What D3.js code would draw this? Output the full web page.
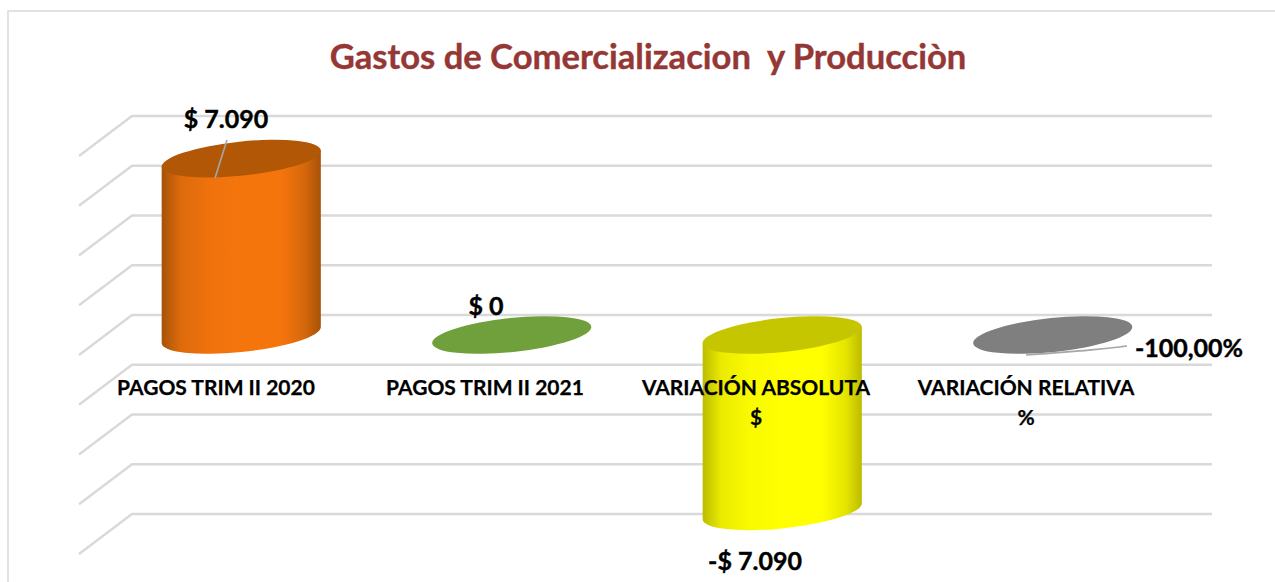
<!DOCTYPE html>
<html><head><meta charset="utf-8">
<style>html,body{margin:0;padding:0;background:#fff;overflow:hidden}svg{display:block}text{font-family:Lato,"Open Sans",sans-serif;font-weight:700}</style>
<script src="https://cdn.jsdelivr.net/npm/d3@7"></script></head><body>
<script>
const titleText = "Gastos de Comercializacion  y Producciòn";
const categories = ["PAGOS TRIM II 2020","PAGOS TRIM II 2021","VARIACIÓN ABSOLUTA|$","VARIACIÓN RELATIVA|%"];
const values = [7090, 0, -7090, -1];
const valueLabels = ["$ 7.090","$ 0","-$ 7.090","-100,00%"];
const gridTicks = [8000,6000,4000,2000,0,-2000,-4000,-6000,-8000];
const colors = [
 {edge:"#a65208",mid:"#f5750d",top:"#b15706"},
 {edge:"#70a03c",mid:"#70a03c",top:"#70a03c"},
 {edge:"#bcbc00",mid:"#ffff00",top:"#c6c600"},
 {edge:"#7f7f7f",mid:"#7f7f7f",top:"#7f7f7f"}];

const W=1275,H=582;
const svg=d3.select("body").append("svg").attr("width",W).attr("height",H);
const defs=svg.append("defs");
const y=d3.scaleLinear().domain([8000,-8000]).range([116,514]);
const x=d3.scaleBand().domain(categories).range([106,1188]);
const depthX=-53,depthY=40;
const cxOf=c=>x(c)+x.bandwidth()/2;

svg.append("rect").attr("x",8).attr("y",11).attr("width",1400).attr("height",700)
  .attr("fill","#fff").attr("stroke","#d9d9d9").attr("stroke-width",1.5);

const grid=svg.append("g").attr("fill","none").attr("stroke","#d9d9d9").attr("stroke-width",2.4);
grid.selectAll("path").data(gridTicks).join("path")
  .attr("d",t=>`M${132+depthX},${y(t)+depthY}L132,${y(t)}L1212,${y(t)}`);

svg.append("text").text(titleText).attr("x",648).attr("y",69).attr("text-anchor","middle")
  .attr("fill","#953735").attr("stroke","#953735").attr("stroke-width",.4)
  .attr("font-size",34.6).style("white-space","pre");

const a=80,b=17,theta=-6*Math.PI/180,zeroOff=depthY/2;
const t0=Math.atan2(-b*Math.sin(theta),a*Math.cos(theta));
const ex=a*Math.cos(t0)*Math.cos(theta)-b*Math.sin(t0)*Math.sin(theta);
const ey=a*Math.cos(t0)*Math.sin(theta)+b*Math.sin(t0)*Math.cos(theta);
const rot=theta*180/Math.PI;

categories.forEach((c,i)=>{
  const id="g"+i,col=colors[i],cx=cxOf(c);
  const lg=defs.append("linearGradient").attr("id",id);
  const mix=d3.interpolateRgb(col.edge,col.mid);
  [[0,col.edge],[.12,mix(.7)],[.3,mix(.92)],[.5,col.mid],[.75,col.mid],[.9,mix(.6)],[1,col.edge]]
    .forEach(s=>lg.append("stop").attr("offset",s[0]).attr("stop-color",s[1]));
  const yTop=y(Math.max(values[i],0))+zeroOff, yBot=y(Math.min(values[i],0))+zeroOff;
  const g=svg.append("g");
  if(Math.abs(values[i])>100){
    g.append("path").attr("fill",`url(#${id})`).attr("d",
      `M${cx-ex},${yTop-ey}L${cx-ex},${yBot-ey}A${a},${b} ${rot} 0 0 ${cx+ex},${yBot+ey}L${cx+ex},${yTop+ey}Z`);
  }
  g.append("ellipse").attr("rx",a).attr("ry",b).attr("fill",col.top)
    .attr("transform",`translate(${cx},${yTop}) rotate(${rot})`);
});

const labelPos=[[226,128,"middle"],[486,315,"middle"],[755,570,"middle"],[1189,357,"middle"]];
const leaders=[[[227,140],[215,178]],null,null,[[1026,355],[1095,350],[1127,346]]];
leaders.forEach(l=>{ if(l) svg.append("path").attr("d",d3.line().curve(d3.curveBasis)(l)).attr("fill","none").attr("stroke","#a6a6a6").attr("stroke-width",1.6); });
valueLabels.forEach((t,i)=>{
  svg.append("text").text(t).attr("x",labelPos[i][0]).attr("y",labelPos[i][1])
    .attr("text-anchor",labelPos[i][2]).attr("font-size",25).attr("fill","#000")
    .attr("stroke","#000").attr("stroke-width",.4);
});

const catX=[216,485,756,1026];
categories.forEach((c,i)=>{
  c.split("|").forEach((ln,k)=>{
    svg.append("text").text(ln).attr("x",catX[i]).attr("y",395+k*30)
      .attr("text-anchor","middle").attr("font-size",21).attr("fill","#000")
      .attr("stroke","#000").attr("stroke-width",.25);
  });
});
</script></body></html>
